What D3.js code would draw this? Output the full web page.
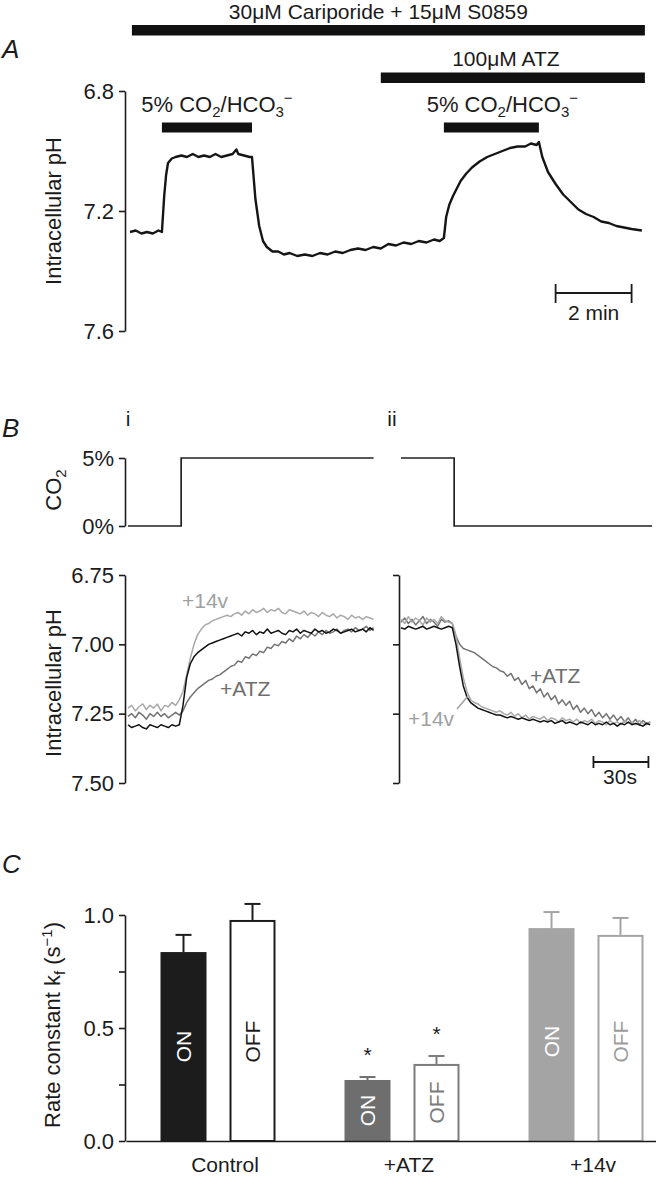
<!DOCTYPE html>
<html>
<head>
<meta charset="utf-8">
<script src="https://cdnjs.cloudflare.com/ajax/libs/d3/7.8.5/d3.min.js"></script>
<style>
  body { margin: 0; background: #fff; }
  svg { display: block; font-family: "Liberation Sans", Arial, sans-serif; }
</style>
</head>
<body>
<div id="fig"></div>
<script>
// ---------- data ----------

// panel A : pHi trace, time in min
var traceA_t = [0, 0.15, 0.3, 0.45, 0.6, 0.75, 0.84, 0.9, 0.95, 1.0,
  1.1, 1.2, 1.35, 1.5, 1.65, 1.8, 1.95, 2.1, 2.25, 2.4,
  2.55, 2.7, 2.8, 2.85, 3.0, 3.15, 3.21, 3.3, 3.4, 3.5,
  3.6, 3.75, 3.9, 4.05, 4.2, 4.4, 4.6, 4.8, 5.0, 5.2,
  5.4, 5.6, 5.8, 6.0, 6.2, 6.4, 6.6, 6.8, 7.0, 7.2,
  7.4, 7.6, 7.8, 8.0, 8.15, 8.26, 8.32, 8.4, 8.5, 8.6,
  8.7, 8.85, 9.0, 9.2, 9.4, 9.6, 9.8, 10.0, 10.2, 10.4,
  10.55, 10.7, 10.76, 10.85, 11.0, 11.2, 11.4, 11.6, 11.8, 12.0,
  12.2, 12.4, 12.6, 12.8, 13.0, 13.2, 13.47];
var traceA_pH = [7.27, 7.265, 7.275, 7.27, 7.275, 7.265, 7.27, 7.15, 7.08, 7.04,
  7.025, 7.02, 7.015, 7.02, 7.01, 7.02, 7.015, 7.02, 7.01, 7.02,
  7.015, 7.01, 6.995, 7.01, 7.015, 7.02, 7.02, 7.16, 7.25, 7.30,
  7.32, 7.335, 7.335, 7.345, 7.34, 7.35, 7.345, 7.35, 7.34, 7.345,
  7.335, 7.34, 7.33, 7.325, 7.33, 7.32, 7.325, 7.31, 7.315, 7.305,
  7.31, 7.30, 7.305, 7.295, 7.30, 7.29, 7.22, 7.18, 7.15, 7.125,
  7.10, 7.075, 7.055, 7.035, 7.02, 7.01, 7.00, 6.99, 6.985, 6.985,
  6.975, 6.98, 6.97, 7.02, 7.07, 7.11, 7.145, 7.17, 7.195, 7.21,
  7.22, 7.235, 7.24, 7.25, 7.255, 7.26, 7.265];

// solution bars (min)
var drugLabels = ["30\u03bcM Cariporide + 15\u03bcM S0859", "100\u03bcM ATZ"];
var drugStart = [0.05, 6.6];
var drugEnd = [13.55, 13.55];
var co2Start = [0.84, 8.26];
var co2End = [3.21, 10.76];
var scaleBarA = [11.2, 13.2];   // 2 min

// panel B : sampled every 2 s
var sampleStep = 2;
var co2_i = [[0, 0], [29, 0], [29, 5], [134, 5]];
var co2_ii = [[0, 5], [29, 5], [29, 0], [137, 0]];

var bi_control = [7.29, 7.30, 7.295, 7.29, 7.30, 7.305, 7.29, 7.295, 7.30, 7.29, 7.295, 7.30, 7.29, 7.295, 7.29,
  7.22, 7.12, 7.07, 7.045, 7.03, 7.02, 7.01, 7.0, 6.995, 6.99, 6.985, 6.98, 6.975, 6.97,
  6.965, 6.96, 6.97, 6.955, 6.96, 6.95, 6.965, 6.955, 6.96, 6.945, 6.96, 6.955, 6.95, 6.96, 6.965,
  6.95, 6.955, 6.945, 6.96, 6.95, 6.955, 6.96, 6.945, 6.955, 6.95, 6.96, 6.955, 6.945, 6.95, 6.96,
  6.955, 6.95, 6.945, 6.955, 6.95, 6.945, 6.955, 6.94, 6.95];
var bi_14v = [7.23, 7.22, 7.24, 7.225, 7.215, 7.235, 7.22, 7.23, 7.215, 7.24, 7.22, 7.225, 7.21, 7.22,
  7.2, 7.17, 7.11, 7.05, 7.0, 6.965, 6.945, 6.93, 6.925, 6.915, 6.91, 6.905, 6.9, 6.895, 6.9,
  6.89, 6.885, 6.895, 6.88, 6.89, 6.875, 6.885, 6.88, 6.87, 6.885, 6.875, 6.88, 6.87, 6.885, 6.89,
  6.875, 6.88, 6.885, 6.89, 6.88, 6.895, 6.885, 6.89, 6.9, 6.885, 6.895, 6.9, 6.89, 6.905, 6.895,
  6.9, 6.91, 6.895, 6.905, 6.9, 6.91, 6.9, 6.905, 6.91];
var bi_atz = [7.26, 7.25, 7.265, 7.245, 7.255, 7.27, 7.25, 7.26, 7.245, 7.26, 7.25, 7.265, 7.255, 7.245, 7.255,
  7.24, 7.21, 7.19, 7.175, 7.16, 7.15, 7.14, 7.13, 7.125, 7.115, 7.11, 7.1, 7.09, 7.08,
  7.075, 7.06, 7.065, 7.045, 7.05, 7.035, 7.04, 7.025, 7.03, 7.01, 7.015, 7.0, 7.005, 6.99, 6.995,
  6.98, 6.99, 6.97, 6.98, 6.965, 6.975, 6.96, 6.97, 6.955, 6.965, 6.95, 6.96, 6.955, 6.945, 6.96,
  6.95, 6.945, 6.955, 6.94, 6.95, 6.945, 6.935, 6.95, 6.94];

var bii_control = [6.94, 6.945, 6.935, 6.94, 6.945, 6.94, 6.935, 6.945, 6.94, 6.935, 6.94, 6.945, 6.94, 6.935,
  6.94, 7.0, 7.08, 7.15, 7.19, 7.21, 7.22, 7.23, 7.235, 7.24, 7.245, 7.25, 7.255, 7.255, 7.26,
  7.265, 7.26, 7.265, 7.27, 7.265, 7.27, 7.275, 7.27, 7.275, 7.28, 7.275, 7.28, 7.275, 7.285, 7.28,
  7.275, 7.285, 7.28, 7.285, 7.29, 7.28, 7.285, 7.29, 7.28, 7.29, 7.285, 7.29, 7.28, 7.29, 7.285,
  7.295, 7.285, 7.29, 7.28, 7.29, 7.285, 7.29, 7.295, 7.285, 7.29];
var bii_14v = [6.91, 6.925, 6.9, 6.92, 6.905, 6.915, 6.93, 6.905, 6.92, 6.91, 6.925, 6.9, 6.915, 6.92,
  6.925, 6.97, 7.05, 7.12, 7.17, 7.2, 7.21, 7.215, 7.225, 7.23, 7.235, 7.24, 7.245, 7.24, 7.25,
  7.255, 7.245, 7.26, 7.25, 7.265, 7.255, 7.27, 7.26, 7.265, 7.27, 7.26, 7.275, 7.265, 7.27, 7.28,
  7.265, 7.275, 7.27, 7.28, 7.27, 7.285, 7.275, 7.28, 7.27, 7.285, 7.275, 7.28, 7.29, 7.275, 7.285,
  7.28, 7.29, 7.275, 7.285, 7.28, 7.29, 7.275, 7.285, 7.29, 7.28];
var bii_atz = [6.92, 6.905, 6.925, 6.91, 6.93, 6.915, 6.9, 6.925, 6.91, 6.92, 6.935, 6.91, 6.92, 6.915,
  6.925, 6.97, 7.0, 7.015, 7.02, 7.025, 7.03, 7.04, 7.05, 7.06, 7.07, 7.08, 7.085, 7.095, 7.1,
  7.115, 7.105, 7.13, 7.12, 7.145, 7.13, 7.16, 7.15, 7.175, 7.16, 7.19, 7.175, 7.2, 7.185, 7.215,
  7.2, 7.22, 7.205, 7.235, 7.22, 7.245, 7.23, 7.25, 7.235, 7.26, 7.245, 7.265, 7.25, 7.27, 7.255,
  7.275, 7.26, 7.28, 7.265, 7.285, 7.27, 7.29, 7.275, 7.285, 7.28];
var scaleBarB = [105, 135];   // 30 s

// panel C : rate constants
var groups = ["Control", "+ATZ", "+14v"];
var conds = ["ON", "OFF"];
var onMean = [0.836, 0.27, 0.942];
var onSem = [0.076, 0.013, 0.071];
var offMean = [0.978, 0.341, 0.912];
var offSem = [0.071, 0.035, 0.075];
var signif = [false, true, false];

// ---------- drawing ----------
(function () {
  var black = "#1b1b1b";
  var svg = d3.select("#fig").append("svg")
      .attr("width", 656)
      .attr("height", 1178);

  // axis styling shared by every panel
  function styleAxis(g) {
    g.attr("font-size", null).attr("font-family", null);
    g.select(".domain").attr("stroke", black).attr("stroke-width", 1.6);
    g.selectAll(".tick line").attr("stroke", black).attr("stroke-width", 1.6);
    g.selectAll(".tick text").attr("fill", black).style("font-size", "22px");
  }

  // text with sub / superscripts: parts = [[text, shift]]
  function richText(sel, parts) {
    var cur = 0;
    parts.forEach(function (p) {
      var t = sel.append("tspan").text(p[0]);
      if (p[1] !== cur) t.attr("dy", p[1] - cur);
      if (p[1] !== 0) t.style("font-size", "15px");
      cur = p[1];
    });
  }
  var co2Parts = [["5% CO", 0], ["2", 5], ["/HCO", 0], ["3", 5], ["\u2212", -9]];

  function panelLetter(txt, y) {
    svg.append("text")
        .attr("x", 2)
        .attr("y", y)
        .style("font-size", "26px")
        .style("font-style", "italic")
        .attr("fill", black)
        .text(txt);
  }

  function yLabel(x, y, parts) {
    var t = svg.append("text")
        .attr("transform", "translate(" + x + "," + y + ") rotate(-90)")
        .attr("text-anchor", "middle")
        .attr("dy", "0.35em")
        .style("font-size", "22px")
        .attr("fill", black);
    richText(t, parts);
  }

  // ===== Panel A =====
  var xA = d3.scaleLinear().domain([0, 13.5]).range([130, 643]);
  var yA = d3.scaleLinear().domain([6.8, 7.6]).range([91, 331]);

  panelLetter("A", 58);

  var drugRowY = [30, 77.5];
  var drugLabelY = [19, 66];
  var drugDx = [-10, -7];
  drugLabels.forEach(function (lab, i) {
    svg.append("rect")
        .attr("x", xA(drugStart[i]))
        .attr("y", drugRowY[i] - 5)
        .attr("width", xA(drugEnd[i]) - xA(drugStart[i]))
        .attr("height", 10.5)
        .attr("fill", "#111");
    svg.append("text")
        .attr("x", (xA(drugStart[i]) + xA(drugEnd[i])) / 2 + drugDx[i])
        .attr("y", drugLabelY[i])
        .attr("text-anchor", "middle")
        .style("font-size", "21px")
        .attr("fill", black)
        .text(lab);
  });

  var co2Dx = [10, 11];
  co2Start.forEach(function (s, i) {
    svg.append("rect")
        .attr("x", xA(s))
        .attr("y", 122.5)
        .attr("width", xA(co2End[i]) - xA(s))
        .attr("height", 10)
        .attr("fill", "#111");
    var t = svg.append("text")
        .attr("x", (xA(s) + xA(co2End[i])) / 2 + co2Dx[i])
        .attr("y", 112)
        .attr("text-anchor", "middle")
        .style("font-size", "22px")
        .attr("fill", black);
    richText(t, co2Parts);
  });

  svg.append("g")
      .attr("transform", "translate(125,0)")
      .call(d3.axisLeft(yA).tickValues([6.8, 7.2, 7.6])
        .tickFormat(d3.format(".1f")).tickSize(6).tickSizeOuter(0).tickPadding(5))
      .call(styleAxis);

  yLabel(53, 211, [["Intracellular pH", 0]]);

  var lineA = d3.line()
      .x(function (d, i) { return xA(traceA_t[i]); })
      .y(function (d) { return yA(d); });

  svg.append("path")
      .datum(traceA_pH)
      .attr("d", lineA)
      .attr("fill", "none")
      .attr("stroke", "#151515")
      .attr("stroke-width", 2.4)
      .attr("stroke-linejoin", "round");

  // 2 min scale bar
  var sbA = svg.append("g").attr("stroke", black).attr("stroke-width", 1.8);
  sbA.append("line").attr("x1", xA(scaleBarA[0])).attr("x2", xA(scaleBarA[1]))
      .attr("y1", 293).attr("y2", 293);
  scaleBarA.forEach(function (t) {
    sbA.append("line").attr("x1", xA(t)).attr("x2", xA(t)).attr("y1", 284).attr("y2", 303);
  });
  svg.append("text")
      .attr("x", (xA(scaleBarA[0]) + xA(scaleBarA[1])) / 2)
      .attr("y", 320)
      .attr("text-anchor", "middle")
      .style("font-size", "21px")
      .attr("fill", black)
      .text("2 min");

  // ===== Panel B =====
  panelLetter("B", 437);
  var sec = 245.6 / 134;
  var xBi = d3.scaleLinear().domain([0, 134]).range([128, 128 + 134 * sec]);
  var xBii = d3.scaleLinear().domain([0, 137]).range([401, 401 + 137 * sec]);
  var yCO2 = d3.scaleLinear().domain([0, 5]).range([526, 458]);
  var yB = d3.scaleLinear().domain([6.75, 7.5]).range([575, 783]);

  svg.append("text").attr("x", 128).attr("y", 426).attr("text-anchor", "middle")
      .style("font-size", "21px").attr("fill", black).text("i");
  svg.append("text").attr("x", 392).attr("y", 426).attr("text-anchor", "middle")
      .style("font-size", "21px").attr("fill", black).text("ii");

  svg.append("g")
      .attr("transform", "translate(125,0)")
      .call(d3.axisLeft(yCO2).tickValues([0, 5])
        .tickFormat(function (d) { return d + "%"; }).tickSize(6).tickSizeOuter(0).tickPadding(5))
      .call(styleAxis);
  yLabel(53, 490, [["CO", 0], ["2", 5]]);

  var stepLine = function (xs) {
    return d3.line().x(function (d) { return xs(d[0]); }).y(function (d) { return yCO2(d[1]); });
  };
  svg.append("path").datum(co2_i).attr("d", stepLine(xBi))
      .attr("fill", "none").attr("stroke", "#222").attr("stroke-width", 1.7);
  svg.append("path").datum(co2_ii).attr("d", stepLine(xBii))
      .attr("fill", "none").attr("stroke", "#222").attr("stroke-width", 1.7);

  svg.append("g")
      .attr("transform", "translate(125,0)")
      .call(d3.axisLeft(yB).tickValues([6.75, 7.0, 7.25, 7.5])
        .tickFormat(d3.format(".2f")).tickSize(6).tickSizeOuter(0).tickPadding(5))
      .call(styleAxis);
  svg.append("g")
      .attr("transform", "translate(399,0)")
      .call(d3.axisLeft(yB).tickValues([6.75, 7.0, 7.25, 7.5])
        .tickFormat("").tickSize(6).tickSizeOuter(0))
      .call(styleAxis);
  yLabel(53, 683, [["Intracellular pH", 0]]);

  var traceColor = {atz: "#747474", v14: "#a9a9a9", ctrl: "#111"};
  function drawTrace(vals, xs, col, w) {
    svg.append("path")
        .datum(vals)
        .attr("d", d3.line()
          .x(function (d, i) { return xs(i * sampleStep); })
          .y(function (d) { return yB(d); }))
        .attr("fill", "none")
        .attr("stroke", col)
        .attr("stroke-width", w)
        .attr("stroke-linejoin", "round");
  }
  drawTrace(bi_atz, xBi, traceColor.atz, 1.5);
  drawTrace(bi_14v, xBi, traceColor.v14, 1.5);
  drawTrace(bi_control, xBi, traceColor.ctrl, 1.5);
  drawTrace(bii_atz, xBii, traceColor.atz, 1.5);
  drawTrace(bii_14v, xBii, traceColor.v14, 1.5);
  drawTrace(bii_control, xBii, traceColor.ctrl, 1.5);

  function traceLabel(x, y, col, txt) {
    svg.append("text").attr("x", x).attr("y", y)
        .style("font-size", "21px").attr("fill", col).text(txt);
  }
  traceLabel(182, 608, "#a0a0a0", "+14v");
  traceLabel(220, 696, "#6e6e6e", "+ATZ");
  traceLabel(530, 683, "#6e6e6e", "+ATZ");
  traceLabel(408, 726, "#a0a0a0", "+14v");
  svg.append("line")
      .attr("x1", 457).attr("y1", 709).attr("x2", 468).attr("y2", 696)
      .attr("stroke", "#a0a0a0").attr("stroke-width", 1.5);

  // 30 s scale bar
  var sbB = svg.append("g").attr("stroke", black).attr("stroke-width", 1.8);
  sbB.append("line").attr("x1", xBii(scaleBarB[0])).attr("x2", xBii(scaleBarB[1]))
      .attr("y1", 762).attr("y2", 762);
  scaleBarB.forEach(function (t) {
    sbB.append("line").attr("x1", xBii(t)).attr("x2", xBii(t)).attr("y1", 756).attr("y2", 768);
  });
  svg.append("text")
      .attr("x", 620)
      .attr("y", 784)
      .attr("text-anchor", "middle")
      .style("font-size", "21px")
      .attr("fill", black)
      .text("30s");

  // ===== Panel C =====
  panelLetter("C", 873);
  var x0 = d3.scaleBand().domain(groups).range([126, 678]);
  var x1 = d3.scaleBand().domain(conds).range([-57.5, 57.5]).paddingInner(1 / 3);
  var yC = d3.scaleLinear().domain([0, 1]).range([1141, 915]);

  var fillCol = ["#1c1c1c", "#6e6e6e", "#a4a4a4"];
  var offStroke = ["#1c1c1c", "#7c7c7c", "#a4a4a4"];
  var offText = ["#1c1c1c", "#7a7a7a", "#9c9c9c"];

  var rows = [];
  groups.forEach(function (g, i) {
    rows.push({g: g, i: i, c: "ON", m: onMean[i], s: onSem[i]});
    rows.push({g: g, i: i, c: "OFF", m: offMean[i], s: offSem[i]});
  });

  var bw = x1.bandwidth();
  rows.forEach(function (d) {
    var bx = x0(d.g) + x0.bandwidth() / 2 + x1(d.c);
    var cx = bx + bw / 2;
    var col = d.c === "ON" ? fillCol[d.i] : offStroke[d.i];
    // error bar
    svg.append("line").attr("x1", cx).attr("x2", cx)
        .attr("y1", yC(d.m)).attr("y2", yC(d.m + d.s))
        .attr("stroke", col).attr("stroke-width", 2);
    svg.append("line").attr("x1", cx - 8).attr("x2", cx + 8)
        .attr("y1", yC(d.m + d.s)).attr("y2", yC(d.m + d.s))
        .attr("stroke", col).attr("stroke-width", 2);
    if (d.c === "ON") {
      svg.append("rect").attr("x", bx).attr("y", yC(d.m))
          .attr("width", bw).attr("height", yC(0) - yC(d.m))
          .attr("fill", col);
    } else {
      svg.append("rect").attr("x", bx + 1).attr("y", yC(d.m) + 1)
          .attr("width", bw - 2).attr("height", yC(0) - yC(d.m) - 1)
          .attr("fill", "#fff").attr("stroke", col).attr("stroke-width", 2);
    }
    var ty = Math.max((yC(d.m) + yC(0)) / 2, yC(0.44));
    svg.append("text")
        .attr("transform", "translate(" + cx + "," + ty + ") rotate(-90)")
        .attr("text-anchor", "middle")
        .attr("dy", "0.36em")
        .style("font-size", "21px")
        .attr("fill", d.c === "ON" ? "#fff" : offText[d.i])
        .text(d.c);
    if (signif[d.i]) {
      svg.append("text")
          .attr("x", cx)
          .attr("y", yC(d.m + d.s) - 15)
          .attr("text-anchor", "middle")
          .style("font-size", "21px")
          .attr("fill", black)
          .text("*");
    }
  });

  svg.append("g")
      .attr("transform", "translate(125,0)")
      .call(d3.axisLeft(yC).tickValues([0, 0.25, 0.5, 0.75, 1])
        .tickFormat(function (d) { return d % 0.5 === 0 ? d.toFixed(1) : ""; })
        .tickSize(6).tickSizeOuter(0).tickPadding(5))
      .call(styleAxis);

  var xAxisC = svg.append("g")
      .attr("transform", "translate(0," + yC(0) + ")")
      .call(d3.axisBottom(x0).tickSize(0).tickSizeOuter(0).tickPadding(16))
      .call(styleAxis);
  xAxisC.selectAll(".tick text").attr("dx", 7).style("font-size", "21px");

  yLabel(52, 1025, [["Rate constant k", 0], ["f", 5], [" (s", 0], ["\u22121", -8], [")", 0]]);
})();
</script>
</body>
</html>
